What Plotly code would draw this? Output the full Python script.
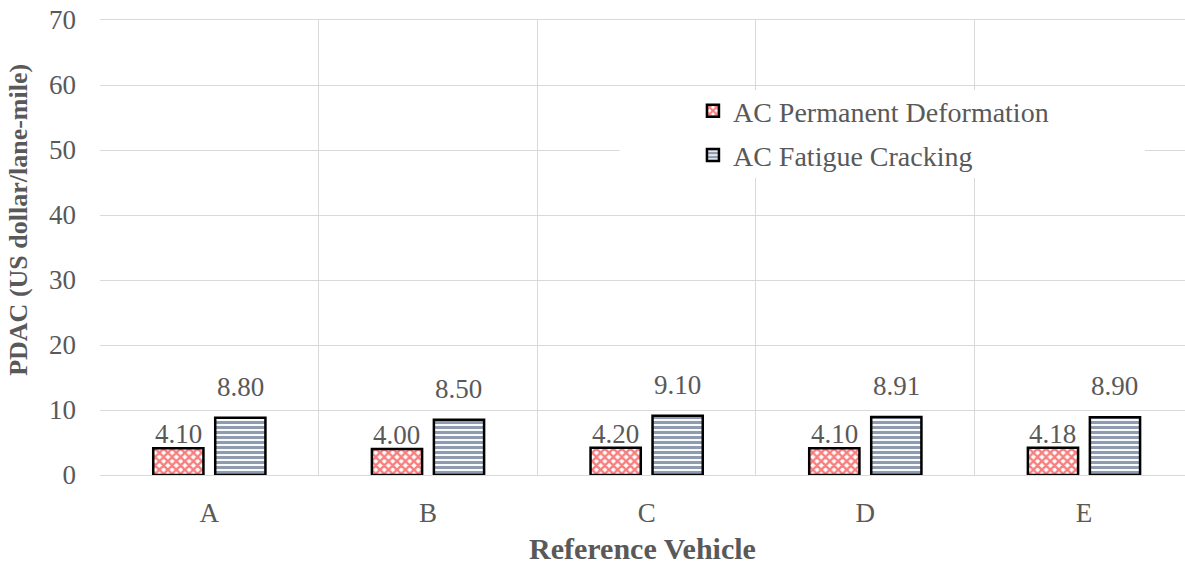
import plotly.graph_objects as go

categories = ["A", "B", "C", "D", "E"]
perm_deform = [4.10, 4.00, 4.20, 4.10, 4.18]
fatigue_crack = [8.80, 8.50, 9.10, 8.91, 8.90]
series_names = ["AC Permanent Deformation", "AC Fatigue Cracking"]
y_ticks = [0, 10, 20, 30, 40, 50, 60, 70]

FONT = "Liberation Serif, Times New Roman, serif"
GRAY = "#595959"
GRID = "#d9d9d9"

fig = go.Figure()
fig.add_trace(go.Bar(
    x=categories, y=perm_deform, name=series_names[0], legendgroup="g1",
    marker=dict(color="white", line=dict(color="black", width=2.5),
                pattern=dict(shape="x", fgcolor="#ee0000", bgcolor="white", size=6, solidity=0.65)),
))
fig.add_trace(go.Bar(
    x=categories, y=fatigue_crack, name=series_names[1], legendgroup="g2",
    marker=dict(color="white", line=dict(color="black", width=2.5),
                pattern=dict(shape="-", fgcolor="#1f3864", bgcolor="white", size=5, solidity=0.62)),
))

# data labels
for vals, xs, ys in [(perm_deform, -31, -3), (fatigue_crack, 31, 14)]:
    for c, v in zip(categories, vals):
        fig.add_annotation(x=c, y=v, text=f"{v:.2f}", showarrow=False,
                           xshift=xs, yshift=ys, yanchor="bottom",
                           font=dict(family=FONT, size=27, color=GRAY))

# y-axis title (placed as in the reference, above the plot centre)
fig.add_annotation(xref="paper", yref="paper", x=-0.075, y=0.56,
                   text="<b>PDAC (US dollar/lane-mile)</b>", textangle=-90,
                   showarrow=False, xanchor="center", yanchor="middle",
                   font=dict(family=FONT, size=26, color=GRAY))

# white background behind legend (covers gridlines)
fig.add_shape(type="rect", xref="x", yref="y",
              x0=1.876, x1=4.279, y0=45.7, y1=59.2,
              fillcolor="white", line=dict(width=0), layer="between")

fig.update_layout(
    width=1185, height=565,
    margin=dict(l=100, r=0, t=20, b=90),
    paper_bgcolor="white", plot_bgcolor="white",
    barmode="group", bargap=0.433, bargroupgap=0.19,
    font=dict(family=FONT, size=27, color=GRAY),
    showlegend=True,
    legend=dict(x=0.5465, y=0.855, xanchor="left", yanchor="top",
                bgcolor="rgba(0,0,0,0)", font=dict(family=FONT, size=28, color=GRAY),
                tracegroupgap=5, traceorder="grouped"),
    xaxis=dict(range=[-0.5, 4.462], tickson="boundaries", showgrid=True,
               gridcolor=GRID, gridwidth=1, ticks="",
               showline=True, mirror=True, linecolor=GRID, linewidth=1,
               ticklabelstandoff=14,
               tickfont=dict(family=FONT, size=27, color=GRAY),
               title=dict(text="<b>Reference Vehicle</b>", standoff=16,
                          font=dict(family=FONT, size=30, color=GRAY))),
    yaxis=dict(range=[0, 70], tickvals=y_ticks, showgrid=True,
               gridcolor=GRID, gridwidth=1, zeroline=True, zerolinecolor=GRID,
               zerolinewidth=1, ticks="", ticklabelstandoff=23,
               tickfont=dict(family=FONT, size=27, color=GRAY)),
)

fig.write_html("out.html", config={"displayModeBar": False},
               post_script="document.body.style.margin='0';")
